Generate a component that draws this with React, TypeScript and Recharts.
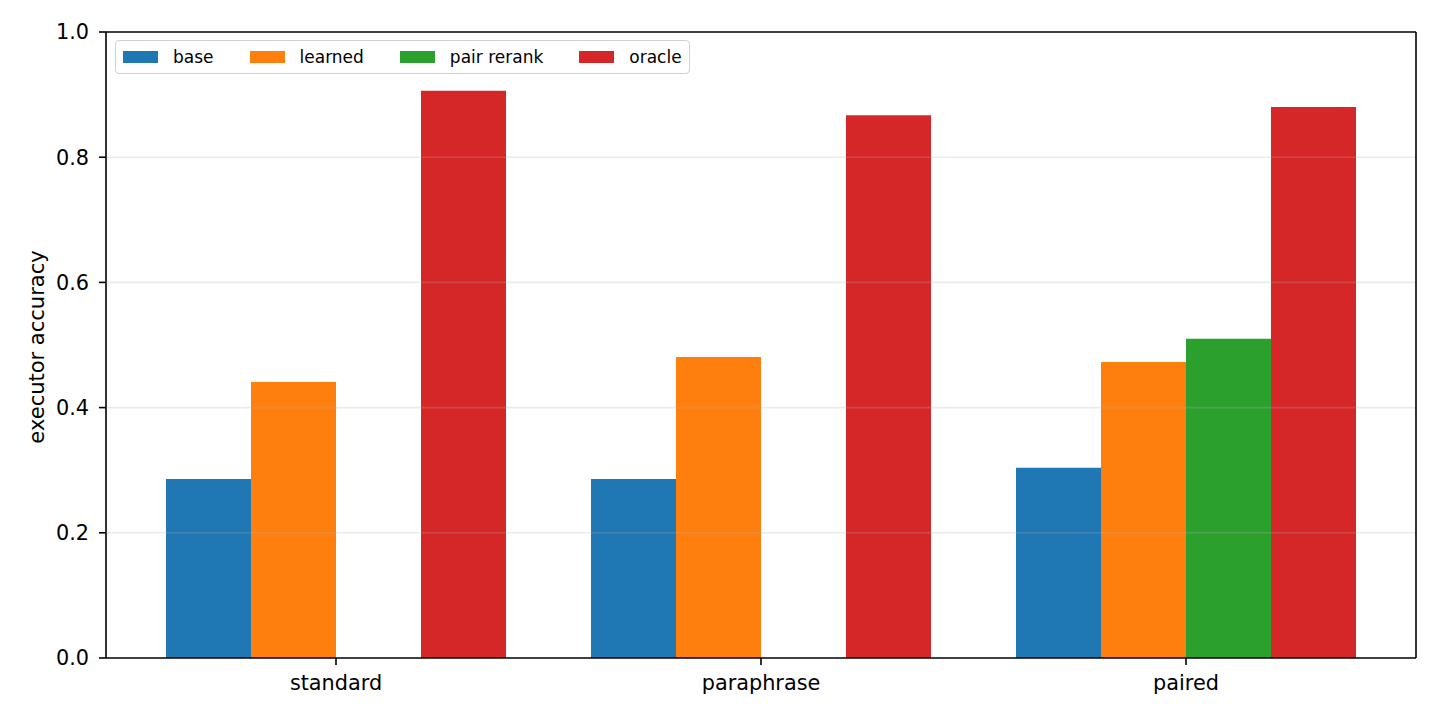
import { BarChart, Bar, XAxis, YAxis, Legend, ReferenceLine } from 'recharts';

const categories = ['standard', 'paraphrase', 'paired'];
const seriesNames = ['base', 'learned', 'pair rerank', 'oracle'];
const baseValues = [0.286, 0.286, 0.304];
const learnedValues = [0.441, 0.481, 0.473];
const pairRerankValues = [null, null, 0.51];
const oracleValues = [0.906, 0.867, 0.88];
const yTicks = [0, 0.2, 0.4, 0.6, 0.8, 1.0];
const gridLines = [0.2, 0.4, 0.6, 0.8];

const data = categories.map((name, i) => ({
    name,
    base: baseValues[i],
    learned: learnedValues[i],
    pairRerank: pairRerankValues[i],
    oracle: oracleValues[i],
}));

const font = 'DejaVu Sans, sans-serif';

function LegendBox({ payload }: any) {
    // keep the series order of the bars, not alphabetical
    const items = [...(payload || [])].sort(
        (a: any, b: any) => seriesNames.indexOf(a.value) - seriesNames.indexOf(b.value)
    );
    return (
        <div
            style={{
                display: 'flex',
                alignItems: 'center',
                height: 32,
                padding: '0 7px',
                border: '1px solid #d0d0d0',
                borderRadius: 4,
                background: 'rgba(255,255,255,0.8)',
                fontFamily: font,
                fontSize: 17,
                color: '#000',
                whiteSpace: 'nowrap',
            }}
        >
            {items.map((p: any, i: number) => (
                <div key={p.value} style={{ display: 'flex', alignItems: 'center', marginLeft: i === 0 ? 0 : 36 }}>
                    <span style={{ display: 'inline-block', width: 35, height: 12, background: p.color, marginRight: 15 }} />
                    <span>{p.value}</span>
                </div>
            ))}
        </div>
    );
}

function YLabel() {
    return (
        <text
            x={44}
            y={347}
            transform="rotate(-90, 44, 347)"
            textAnchor="middle"
            fontFamily={font}
            fontSize={21}
            fill="#000"
        >
            executor accuracy
        </text>
    );
}

export default function App() {
    const tick = { fontSize: 20.8, fill: '#000', fontFamily: font };
    const frame = { stroke: '#000', strokeWidth: 1.6 };
    return (
        <div style={{ position: 'absolute', left: 0, top: 0, width: 1440, height: 720, background: '#fff' }}>
            <BarChart
                width={1440}
                height={720}
                data={data}
                margin={{ top: 31, right: 23, left: 0, bottom: 0 }}
                barCategoryGap={42.5}
                barGap={0}
            >
                <XAxis
                    dataKey="name"
                    height={62}
                    padding={{ left: 17.5, right: 17.5 }}
                    tick={tick}
                    tickSize={7}
                    tickMargin={10}
                    axisLine={frame}
                    tickLine={frame}
                />
                <XAxis
                    xAxisId="top"
                    dataKey="name"
                    orientation="top"
                    height={1}
                    tick={false}
                    tickLine={false}
                    axisLine={frame}
                />
                <YAxis
                    width={106}
                    domain={[0, 1]}
                    ticks={yTicks}
                    tickFormatter={(v: number) => v.toFixed(1)}
                    tick={tick}
                    tickSize={7}
                    tickMargin={10}
                    axisLine={frame}
                    tickLine={frame}
                    label={<YLabel />}
                />
                <YAxis
                    yAxisId="right"
                    orientation="right"
                    width={1}
                    domain={[0, 1]}
                    tick={false}
                    tickLine={false}
                    axisLine={frame}
                />
                <Legend
                    layout="vertical"
                    align="center"
                    verticalAlign="middle"
                    content={<LegendBox />}
                    wrapperStyle={{ left: 115, top: 40, width: 'auto', height: 'auto' }}
                />
                <Bar dataKey="base" name="base" fill="#1f77b4" isAnimationActive={false} />
                <Bar dataKey="learned" name="learned" fill="#ff7f0e" isAnimationActive={false} />
                <Bar dataKey="pairRerank" name="pair rerank" fill="#2ca02c" isAnimationActive={false} />
                <Bar dataKey="oracle" name="oracle" fill="#d62728" isAnimationActive={false} />
                {gridLines.map((v) => (
                    <ReferenceLine key={v} y={v} stroke="#b0b0b0" strokeOpacity={0.25} strokeWidth={1.6} />
                ))}
            </BarChart>
        </div>
    );
}
